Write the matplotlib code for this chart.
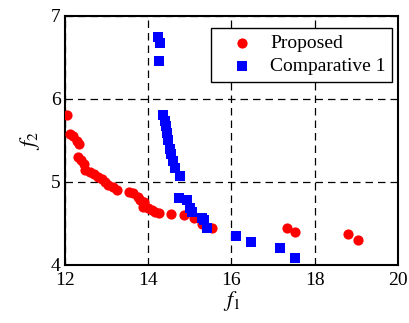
import numpy as np
import matplotlib
matplotlib.use("Agg")
import matplotlib.pyplot as plt

plt.rcParams['font.family'] = ['Liberation Serif', 'DejaVu Serif']
plt.rcParams['mathtext.fontset'] = 'stix'

# Proposed (red circles)
prop_f1 = [12.06, 12.14, 12.20, 12.30, 12.35, 12.32, 12.40, 12.47, 12.50, 12.60,
           12.71, 12.80, 12.89, 12.97, 13.05, 13.15, 13.25, 13.55, 13.65, 13.75,
           13.81, 13.91, 13.89, 13.99, 14.09, 14.17, 14.27, 14.56, 14.87, 15.10,
           15.29, 15.54, 17.34, 17.53, 18.80, 19.05]
prop_f2 = [5.80, 5.58, 5.55, 5.49, 5.46, 5.30, 5.26, 5.22, 5.14, 5.12,
           5.10, 5.06, 5.03, 5.00, 4.96, 4.94, 4.90, 4.88, 4.86, 4.82,
           4.78, 4.76, 4.70, 4.68, 4.66, 4.64, 4.62, 4.61, 4.60, 4.56,
           4.49, 4.45, 4.45, 4.40, 4.37, 4.30]

# Comparative 1 (blue squares)
comp_f1 = [14.25, 14.29, 14.27, 14.36, 14.42, 14.44, 14.46, 14.48, 14.54, 14.56,
           14.59, 14.66, 14.78, 14.74, 14.94, 15.02, 15.06, 15.30, 15.34, 15.42,
           16.11, 16.47, 17.18, 17.52]
comp_f2 = [6.74, 6.67, 6.46, 5.80, 5.73, 5.67, 5.59, 5.51, 5.39, 5.33,
           5.25, 5.17, 5.07, 4.80, 4.78, 4.68, 4.64, 4.56, 4.54, 4.44,
           4.35, 4.28, 4.20, 4.08]

fig = plt.figure(figsize=(4.09, 3.23), dpi=100)
ax = fig.add_axes([0.158, 0.180, 0.815, 0.771])

ax.scatter(prop_f1, prop_f2, s=54, c='#ff0000', marker='o', linewidths=0, label='Proposed', zorder=3)
ax.scatter(comp_f1, comp_f2, s=50, c='#0000ff', marker='s', linewidths=0, label='Comparative 1', zorder=3)

ax.set_xlim(12, 20)
ax.set_ylim(4, 7)
ax.set_xticks([12, 14, 16, 18, 20])
ax.set_yticks([4, 5, 6, 7])
ax.grid(True, color='black', linestyle=(0, (6, 4)), linewidth=0.9)
ax.set_axisbelow(True)
ax.tick_params(axis='both', labelsize=14, length=0)
ax.tick_params(axis='x', pad=5)
ax.tick_params(axis='y', pad=3)
for sp in ax.spines.values():
    sp.set_linewidth(1.5)

ax.set_xlabel('$f_1$', fontsize=16, labelpad=0)
ax.set_ylabel('$f_2$', fontsize=16, labelpad=6)

leg = ax.legend(loc='upper right', bbox_to_anchor=(0.982, 0.951), borderaxespad=0,
                fontsize=14, frameon=True, fancybox=False, edgecolor='black',
                handlelength=2.6, handletextpad=0.15, borderpad=0.32,
                labelspacing=0.3, scatterpoints=1)
leg.get_frame().set_linewidth(1.0)
leg.get_frame().set_alpha(1)

fig.savefig('out.png', dpi=100)
